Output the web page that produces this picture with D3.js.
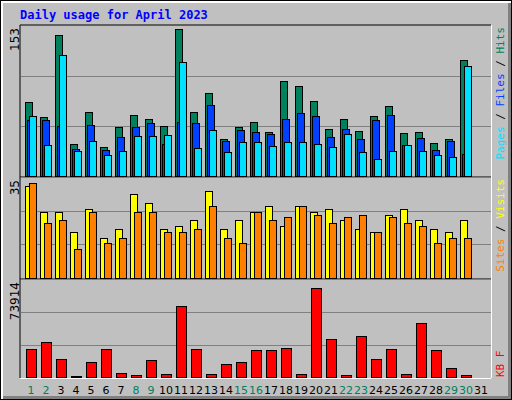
<!DOCTYPE html>
<html>
<head>
<meta charset="utf-8">
<script src="https://cdn.jsdelivr.net/npm/d3@7"></script>
<style>
  body { margin: 0; background: #fff; }
</style>
</head>
<body>
<div id="chart"></div>
<script>
// daily values
const days = d3.range(1, 32);
const weekend = [1, 2, 8, 9, 15, 16, 22, 23, 29, 30];
const hits = [75, 60, 144, 33, 65, 30, 50, 62, 58, 51, 150, 65, 85, 38, 50, 55, 45, 97, 92, 77, 48, 58, 46, 61, 71, 44, 45, 34, 38, 118, 0];
const files = [57, 57, 51, 28, 52, 27, 40, 50, 54, 33, 55, 54, 72, 36, 47, 45, 43, 58, 64, 61, 40, 48, 38, 57, 62, 32, 39, 27, 36, 22, 0];
const pages = [61, 32, 123, 26, 36, 21, 26, 41, 41, 42, 116, 29, 47, 24, 35, 35, 31, 35, 35, 33, 30, 43, 24, 17, 26, 32, 26, 21, 19, 112, 0];
const visits = [32, 23, 23, 16, 24, 14, 17, 29, 26, 17, 18, 20, 30, 17, 20, 23, 25, 18, 25, 23, 24, 20, 17, 16, 22, 24, 20, 17, 16, 20, 0];
const sites = [33, 19, 20, 10, 23, 12, 14, 23, 23, 16, 16, 17, 25, 14, 12, 23, 20, 21, 25, 22, 19, 21, 22, 16, 21, 19, 18, 12, 14, 14, 0];
const kbytes = [21650, 26880, 13440, 750, 11200, 21650, 2990, 1490, 12690, 2240, 53760, 21650, 2240, 9710, 11200, 20900, 20900, 22400, 2240, 67950, 29120, 1490, 31360, 13440, 21650, 2240, 41070, 20900, 6720, 1490, 0];
const maxHits = 153, maxVisits = 35, maxKB = 73914;

const W = 512, H = 400;
const svg = d3.select("#chart").append("svg")
  .attr("width", W).attr("height", H)
  .style("display", "block");

// outer frame
svg.append("rect").attr("x", 0).attr("y", 0).attr("width", W).attr("height", H).attr("fill", "#000");
svg.append("rect").attr("x", 1).attr("y", 1).attr("width", W - 2).attr("height", H - 2).attr("fill", "#fff");
svg.append("rect").attr("x", 3).attr("y", 3).attr("width", W - 4).attr("height", H - 4).attr("fill", "#808080");
svg.append("rect").attr("x", 3).attr("y", 3).attr("width", W - 7).attr("height", H - 7).attr("fill", "#c0c0c0");

svg.append("text")
  .attr("x", 20).attr("y", 19)
  .attr("fill", "#0000ff")
  .style("font", "bold 12px 'DejaVu Sans Mono', monospace")
  .text("Daily usage for April 2023");

const x = d3.scaleLinear().domain([1, 31]).range([25, 475]);
const left = 20, right = 491;

// panels
const panels = [
  { top: 25, bottom: 177, ytop: 26, max: maxHits, label: "153" },
  { top: 177, bottom: 279, ytop: 177, max: maxVisits, label: "35" },
  { top: 279, bottom: 378, ytop: 280, max: maxKB, label: "73914" }
];

panels.forEach(p => {
  p.base = p.bottom - 1;
  p.y = d3.scaleLinear().domain([0, p.max]).range([p.base, p.ytop]);
  // bevel: black top/left, white bottom/right
  svg.append("line").attr("x1", left).attr("x2", right).attr("y1", p.top).attr("y2", p.top).attr("stroke", "#000");
  svg.append("line").attr("x1", left).attr("x2", left).attr("y1", p.top).attr("y2", p.bottom).attr("stroke", "#000");
  svg.append("line").attr("x1", left).attr("x2", right).attr("y1", p.bottom + 0.5).attr("y2", p.bottom + 0.5).attr("stroke", "#fff");
  svg.append("line").attr("x1", right + 0.5).attr("x2", right + 0.5).attr("y1", p.top).attr("y2", p.bottom).attr("stroke", "#fff");
  [1 / 3, 2 / 3].forEach(f => {
    const gy = Math.round(p.y(p.max * f)) + 0.5;
    svg.append("line").attr("x1", left + 1).attr("x2", right).attr("y1", gy).attr("y2", gy).attr("stroke", "#808080");
  });
  svg.append("text")
    .attr("transform", `translate(19, ${p.top + 3}) rotate(-90)`)
    .attr("text-anchor", "end")
    .attr("fill", "#000")
    .style("font", "12px 'DejaVu Sans', sans-serif")
    .text(p.label);
});

function bars(values, panel, off, w, color) {
  svg.append("g").selectAll("rect")
    .data(values.map((v, i) => ({ d: days[i], v })).filter(o => o.v > 0))
    .join("rect")
    .attr("x", o => x(o.d) + off + 0.5)
    .attr("y", o => Math.round(panel.y(o.v)) + 0.5)
    .attr("width", w)
    .attr("height", o => panel.base - Math.round(panel.y(o.v)))
    .attr("fill", color)
    .attr("stroke", "#000");
}

bars(hits, panels[0], 0, 7, "#00805c");
bars(files, panels[0], 2, 7, "#0040ff");
bars(pages, panels[0], 4, 7, "#00e0ff");
bars(visits, panels[1], 0, 7, "#ffff00");
bars(sites, panels[1], 4, 7, "#ff8000");
bars(kbytes, panels[2], 1, 10, "#ff0000");

// day labels
svg.append("g").selectAll("text")
  .data(days)
  .join("text")
  .attr("x", d => x(d) + 6)
  .attr("y", 394)
  .attr("text-anchor", "middle")
  .attr("fill", d => weekend.includes(d) ? "#00805c" : "#000")
  .style("font", "11px 'DejaVu Sans', sans-serif")
  .text(d => d);

// right-side legends
function legend(parts, yEnd, anchor) {
  const t = svg.append("text")
    .attr("transform", `translate(504, ${yEnd}) rotate(-90)`)
    .attr("text-anchor", anchor)
    .style("font", "11px 'DejaVu Sans Mono', monospace");
  parts.forEach(([s, c]) => t.append("tspan").attr("fill", c).text(s));
}
legend([["Pages", "#00e0ff"], [" / ", "#000"], ["Files", "#0040ff"], [" / ", "#000"], ["Hits", "#00805c"]], 27, "end");
legend([["Sites", "#ff8000"], [" / ", "#000"], ["Visits", "#ffff00"]], 179, "end");
legend([["KB F", "#ff0000"]], 377, "start");
</script>
</body>
</html>
